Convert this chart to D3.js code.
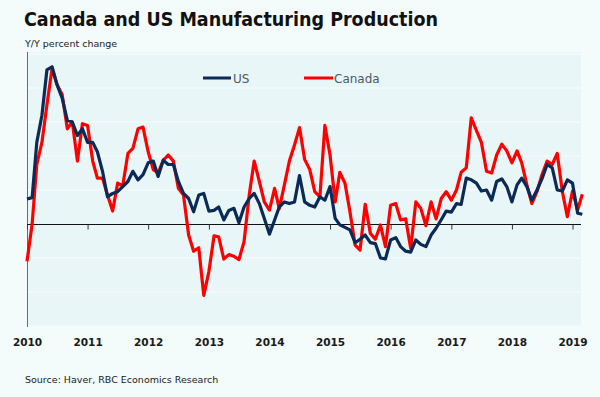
<!DOCTYPE html>
<html>
<head>
<meta charset="utf-8">
<script src="https://cdn.jsdelivr.net/npm/d3@7"></script>
<style>
  html, body { margin: 0; padding: 0; background: #f3fbfb; }
  svg { display: block; }
</style>
</head>
<body>
<svg id="chart" width="600" height="397"></svg>
<script>
// ---- data ----
const startYear = 2010;
const yearLabels = ["2010","2011","2012","2013","2014","2015","2016","2017","2018","2019"];
const seriesNames = ["US", "Canada"];
const usValues = [
  1.47, 1.55, 4.8, 6.4, 9.06, 9.25, 8.2, 7.4, 6.1, 6.0, 5.2, 5.6,
  4.8, 4.8, 4.25, 3.1, 1.6, 1.8, 1.9, 2.2, 2.5, 3.1, 2.6, 2.9,
  3.6, 3.7, 2.8, 3.75, 3.5, 3.5, 2.5, 1.8, 1.5, 0.72, 1.7, 1.8,
  0.76, 0.8, 1.0, 0.24, 0.8, 0.92, 0.08, 1.0, 1.5, 1.8, 1.2, 0.33,
  -0.6, 0.24, 1.0, 1.3, 1.2, 1.3, 2.85, 1.3, 1.1, 1.0, 1.6, 1.4,
  2.2, 0.33, -0.05, -0.2, -0.35, -1.1, -0.9, -0.65, -1.1, -1.15, -2.0, -2.05,
  -0.94, -0.8, -1.33, -1.6, -1.65, -0.94, -1.2, -1.33, -0.65, -0.25, 0.25, 0.76,
  0.7, 1.2, 1.15, 2.7, 2.6, 2.4, 1.94, 2.0, 1.4, 2.5, 2.65, 2.2,
  1.3, 2.3, 2.7, 2.2, 1.4, 2.0, 2.65, 3.5, 3.3, 2.0, 1.94, 2.6,
  2.4, 0.63, 0.57
];
const canadaValues = [
  -2.2, 0.0, 3.5, 4.8, 7.0, 9.15, 8.2, 7.6, 5.6, 6.0, 3.7, 5.9,
  5.8, 3.7, 2.7, 2.7, 1.7, 0.76, 2.4, 2.25, 4.15, 4.45, 5.6, 5.7,
  4.25, 3.2, 3.0, 3.75, 4.06, 3.7, 2.1, 1.7, -0.65, -1.6, -1.4, -4.2,
  -2.8, -0.7, -0.75, -2.06, -1.8, -1.9, -2.1, -1.04, 1.7, 3.7, 2.5, 1.3,
  0.82, 2.1, 0.9, 2.3, 3.7, 4.65, 5.67, 3.8, 3.2, 1.9, 1.6, 5.8,
  4.06, 1.3, 3.04, 2.4, 0.72, -1.24, -1.53, 1.16, -0.55, -0.9, -0.06, -1.33,
  1.1, 1.2, 0.24, 0.3, -1.43, 1.3, 0.92, -0.1, 1.3, 0.3, 1.5, 1.9,
  1.4, 2.0, 3.04, 3.3, 6.25, 5.5, 4.8, 3.1, 3.0, 4.06, 4.7, 4.3,
  3.6, 4.3, 3.6, 2.3, 1.2, 1.9, 2.9, 3.7, 3.5, 4.15, 1.9, 0.43,
  1.94, 0.82, 1.75
];
const gridValues = [-6, -4, -2, 2, 4, 6, 8, 10];

// ---- layout ----
const svg = d3.select("#chart");
const plot = { left: 27, right: 581, top: 52, bottom: 327 };
const font = "'DejaVu Sans', Verdana, sans-serif";
const colors = { US: "#0b2a55", Canada: "#ff0000" };

const x = d3.scaleTime()
  .domain([new Date(2010, 0, 1), new Date(2019, 0, 1)])
  .range([27, 572.5]);
const y = d3.scaleLinear().domain([-6, 10]).range([326, 54]);

const toDates = arr => arr.map((v, i) => ({ date: new Date(startYear, i, 1), value: v }));
const data = { US: toDates(usValues), Canada: toDates(canadaValues) };

// plot background
svg.append("rect")
  .attr("x", plot.left).attr("y", plot.top)
  .attr("width", plot.right - plot.left).attr("height", plot.bottom - plot.top)
  .attr("fill", "#e9f6f8");

// gridlines
svg.append("g").selectAll("line").data(gridValues).join("line")
  .attr("x1", plot.left).attr("x2", plot.right)
  .attr("y1", d => y(d)).attr("y2", d => y(d))
  .attr("stroke", "#f8fdfd").attr("stroke-width", 1.2);

// y axis line
svg.append("line")
  .attr("x1", plot.left + 0.5).attr("x2", plot.left + 0.5)
  .attr("y1", plot.top).attr("y2", plot.bottom)
  .attr("stroke", "#6b6b6b").attr("stroke-width", 1);

// zero line with ticks
const tickDates = yearLabels.map(s => new Date(+s, 0, 1));
const zeroAxis = svg.append("g")
  .attr("transform", `translate(0,${Math.round(y(0)) + 0.5})`)
  .call(d3.axisBottom(x).tickValues(tickDates).tickSize(5).tickSizeOuter(0).tickFormat(""));
zeroAxis.select(".domain").attr("d", `M${plot.left},0H${plot.right}`).attr("stroke", "#111");
zeroAxis.selectAll(".tick line").attr("stroke", "#333");

// lines
const line = d3.line().x(d => x(d.date)).y(d => y(d.value));
["Canada", "US"].forEach(name => {
  svg.append("path")
    .datum(data[name])
    .attr("fill", "none")
    .attr("stroke", colors[name])
    .attr("stroke-width", 3.2)
    .attr("stroke-linejoin", "round")
    .attr("d", line);
});

// bottom year labels
const labelAxis = svg.append("g")
  .attr("transform", `translate(0,336)`)
  .call(d3.axisBottom(x).tickValues(tickDates).tickSize(0)
    .tickFormat((d, i) => yearLabels[i]));
labelAxis.select(".domain").remove();
labelAxis.selectAll("text")
  .attr("font-family", font).attr("font-size", 10.5).attr("font-weight", "bold")
  .attr("fill", "#1a1a1a").attr("dy", "0.71em");

// legend
const legend = [
  { name: seriesNames[0], x1: 203, x2: 231, tx: 233 },
  { name: seriesNames[1], x1: 304, x2: 333, tx: 334 }
];
const lg = svg.append("g");
legend.forEach(l => {
  lg.append("line").attr("x1", l.x1).attr("x2", l.x2).attr("y1", 78).attr("y2", 78)
    .attr("stroke", colors[l.name]).attr("stroke-width", 3);
  lg.append("text").attr("x", l.tx).attr("y", 82.5)
    .attr("font-family", font).attr("font-size", 12)
    .attr("fill", "#4d5866").text(l.name);
});

// titles
svg.append("text").attr("x", 24).attr("y", 26)
  .attr("font-family", font).attr("font-size", 19)
  .attr("fill", "#111")
  .style("font-weight", 600)
  .attr("textLength", 414).attr("lengthAdjust", "spacingAndGlyphs")
  .text("Canada and US Manufacturing Production");
svg.append("text").attr("x", 25).attr("y", 47)
  .attr("font-family", font).attr("font-size", 9.5)
  .attr("fill", "#222")
  .text("Y/Y percent change");
svg.append("text").attr("x", 25).attr("y", 383)
  .attr("font-family", font).attr("font-size", 9.5)
  .attr("fill", "#222")
  .text("Source: Haver, RBC Economics Research");
</script>
</body>
</html>
